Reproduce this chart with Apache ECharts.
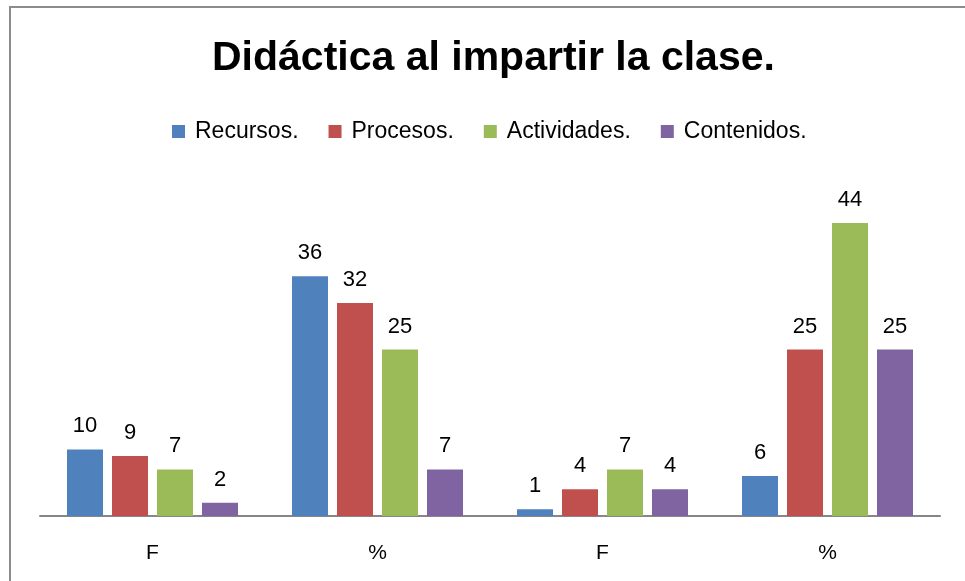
<!DOCTYPE html>
<html>
<head>
<meta charset="utf-8">
<script src="https://cdn.jsdelivr.net/npm/echarts@6/dist/echarts.min.js"></script>
<style>
  html, body { margin: 0; padding: 0; background: #fff; }
  #chart { width: 965px; height: 581px; }
</style>
</head>
<body>
<div id="chart"></div>
<script>
// datos
const categories = ['F', '%', 'F', '%'];
const recursos = [10, 36, 1, 6];
const procesos = [9, 32, 4, 25];
const actividades = [7, 25, 7, 44];
const contenidos = [2, 7, 4, 25];
const seriesNames = ['Recursos.', 'Procesos.', 'Actividades.', 'Contenidos.'];
const colors = ['#4F81BD', '#C0504D', '#9BBB59', '#8064A2'];

const font = 'Liberation Sans';
const chart = echarts.init(document.getElementById('chart'));

function makeSeries(name, data, color) {
    return {
        name: name,
        type: 'bar',
        data: data,
        barWidth: 36,
        barGap: '25%',
        itemStyle: { color: color },
        label: {
            show: true,
            position: 'top',
            distance: 12,
            color: '#000',
            fontFamily: font,
            fontSize: 22
        }
    };
}

chart.setOption({
    animation: false,
    color: colors,
    title: {
        text: 'Didáctica al impartir la clase.',
        left: 207,
        top: 33,
        textStyle: { fontFamily: font, fontSize: 41, fontWeight: 'bold', color: '#000' }
    },
    legend: {
        top: 115,
        left: 167,
        itemWidth: 13,
        itemHeight: 13,
        itemGap: 30,
        icon: 'rect',
        textStyle: { fontFamily: font, fontSize: 23, color: '#000', padding: [0, 0, 0, 5] },
        data: seriesNames
    },
    grid: { left: 40, right: 25, top: 183, bottom: 65 },
    xAxis: {
        type: 'category',
        data: categories,
        axisLine: { lineStyle: { color: '#868686', width: 2 } },
        axisTick: { show: false },
        axisLabel: { color: '#000', fontFamily: font, fontSize: 21, margin: 27 }
    },
    yAxis: {
        type: 'value',
        min: 0,
        max: 50,
        show: false
    },
    graphic: [{
        type: 'rect',
        shape: { x: 10, y: 7, width: 1000, height: 700 },
        style: { fill: 'none', stroke: '#8c8c8c', lineWidth: 2 },
        silent: true
    }],
    series: [
        makeSeries(seriesNames[0], recursos, colors[0]),
        makeSeries(seriesNames[1], procesos, colors[1]),
        makeSeries(seriesNames[2], actividades, colors[2]),
        makeSeries(seriesNames[3], contenidos, colors[3])
    ]
});
</script>
</body>
</html>
